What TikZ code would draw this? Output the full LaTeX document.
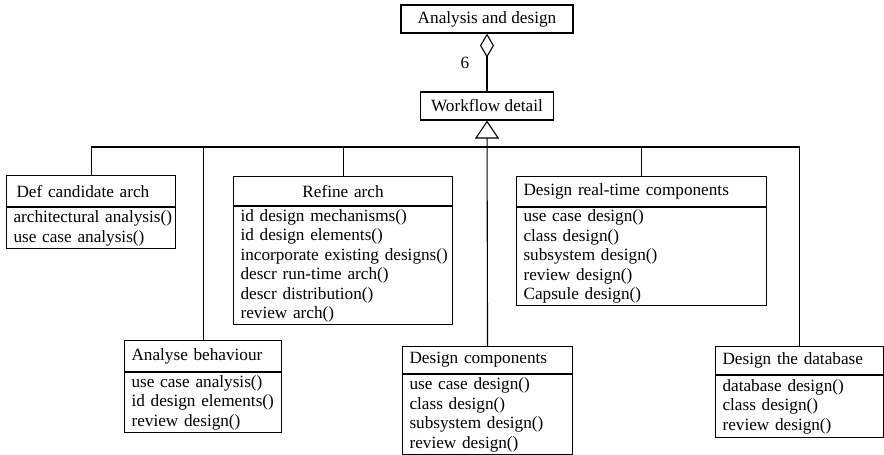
\documentclass[tikz,border=0pt]{standalone}
\usepackage{fontspec}
\setmainfont{Liberation Serif}
\usetikzlibrary{arrows.meta}
\begin{document}
\begin{tikzpicture}[x=1pt, y=-1pt, line width=1.1pt,
  every node/.style={font=\fontsize{17.2}{19.5}\selectfont},
  simplebox/.style 2 args={draw, minimum width=#1, minimum height=#2, inner sep=0pt},
  compartment/.style 2 args={draw, anchor=north west, inner ysep=0pt, inner xsep=2pt,
    minimum width=#1, minimum height=#2, text width=#1-4pt},
  indented/.style={align=left,
    execute at begin node={\leftskip=#1\hyphenpenalty=10000\relax}},
  hdr/.style 2 args={compartment={#1}{#2}, indented=5pt},
  body/.style 2 args={compartment={#1}{#2}, indented=5pt},
  tri/.style={-{Triangle[open, length=18pt, width=24pt]}},
  agg/.style={{Diamond[open, length=24pt, width=14pt]}-}]
\useasboundingbox (0,0) rectangle (884,455);

% top of the hierarchy
\node[simplebox={172}{28}] (ad) at (487,19) {Analysis and design};
\node[simplebox={133}{28}] (wf) at (487,106) {Workflow detail};
\draw[agg] (ad.south) -- (wf.north);
\node (mult) at (465,62.5) {6};

% workflow details
\node[compartment={169}{31}, indented=8pt] (dca) at (6,175) {Def candidate arch};
\node[body={169}{41}] (dcab) at (dca.south west) {architectural analysis()\\use case analysis()};

\node[compartment={219}{29}, align=center] (rfa) at (233,176) {Refine arch};
\node[body={219}{118}] (rfab) at (rfa.south west) {id design mechanisms()\\id design elements()\\incorporate existing designs()\\descr run-time arch()\\descr distribution()\\review arch()};

\node[hdr={250}{30}] (rtc) at (516,176) {Design real-time components};
\node[body={250}{98}] (rtcb) at (rtc.south west) {use case design()\\class design()\\subsystem design()\\review design()\\Capsule design()};

\node[hdr={157}{31}] (ab) at (124,340) {Analyse behaviour};
\node[body={157}{60}] (abb) at (ab.south west) {use case analysis()\\id design elements()\\review design()};

\node[hdr={170}{27}] (dcm) at (402,346) {Design components};
\node[body={170}{80}] (dcmb) at (dcm.south west) {use case design()\\class design()\\subsystem design()\\review design()};

\node[hdr={168}{28}] (dtb) at (715,346) {Design the database};
\node[body={168}{62}] (dtbb) at (dtb.south west) {database design()\\class design()\\review design()};

% generalisation tree
\coordinate (jn) at (487,147);
\draw (dca.north) |- (dtb.north |- jn) -- (dtb.north);
\draw (ab.north) -- (ab.north |- jn);
\draw (rfa.north) -- (rfa.north |- jn);
\draw (rtc.north) -- (rtc.north |- jn);
\draw[tri] (dcm.north) -- (wf.south);
\end{tikzpicture}
\end{document}
